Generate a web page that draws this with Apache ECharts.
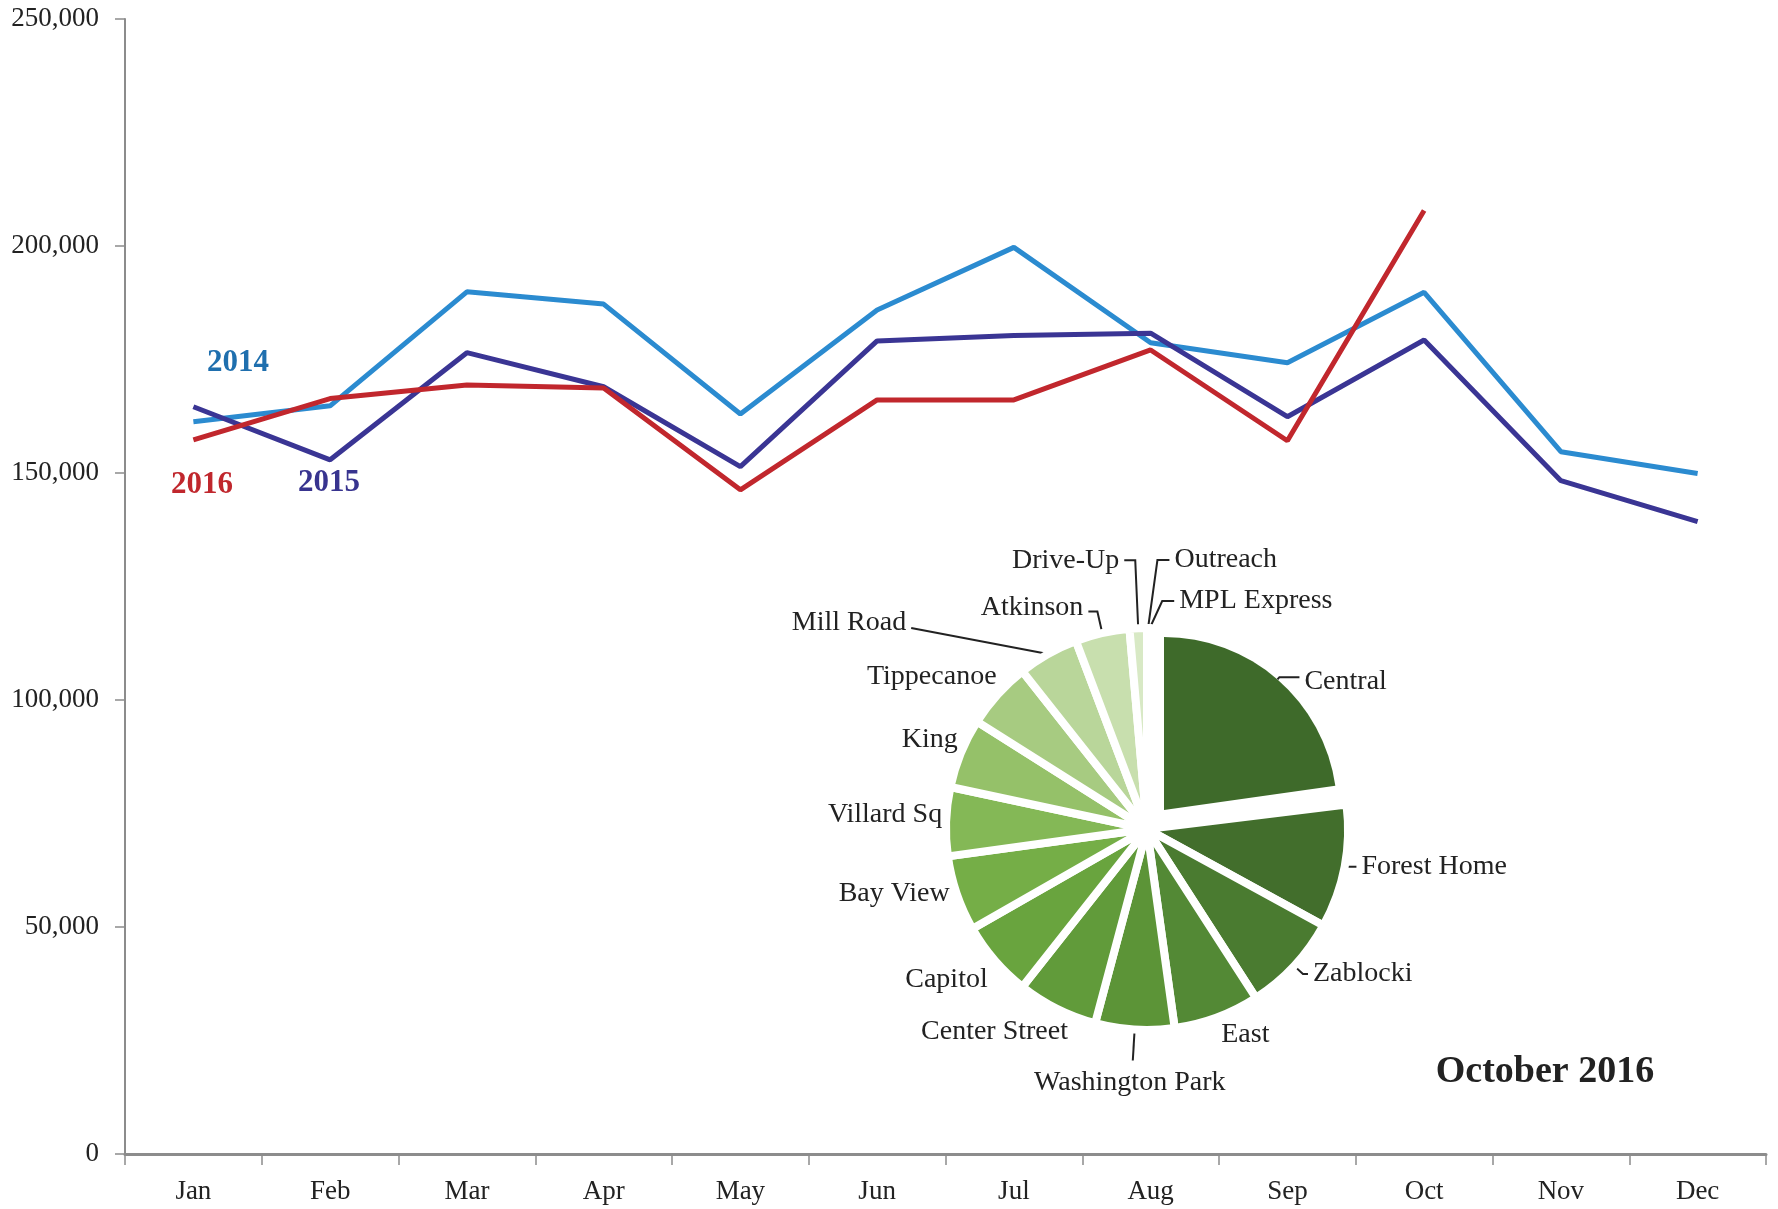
<!DOCTYPE html>
<html>
<head>
<meta charset="utf-8">
<script src="https://cdn.jsdelivr.net/npm/echarts@6/dist/echarts.min.js"></script>
<style>
html,body{margin:0;padding:0;background:#ffffff;}
#chart{width:1778px;height:1209px;}
</style>
</head>
<body>
<div id="chart"></div>
<script>
// ---------- data ----------
const months = ['Jan','Feb','Mar','Apr','May','Jun','Jul','Aug','Sep','Oct','Nov','Dec'];
const yearNames = ['2014','2015','2016'];
const values2014 = [161300,164800,189900,187200,163000,185900,199700,178700,174300,189800,154700,149900];
const values2015 = [164600,152900,176500,169000,151400,179100,180300,180800,162400,179300,148300,139300];
const values2016 = [157300,166400,169400,168700,146300,166100,166100,177100,157100,207800,null,null];
const pieTitle = 'October 2016';
const pieNames = ['Outreach','MPL Express','Central','Forest Home','Zablocki','East','Washington Park',
  'Center Street','Capitol','Bay View','Villard Sq','King','Tippecanoe','Mill Road','Atkinson','Drive-Up'];
const pieValues = [350,230,47300,20600,16450,14370,13200,13450,12700,12640,11480,11660,11200,10160,9060,2890];

// ---------- styles ----------
const FONT = '"Liberation Serif", "DejaVu Serif", serif';
const lineColors = ['#2b8bd0','#3a3594','#c1272d'];
const yearLabelColors = ['#1f6fae','#38348f','#c0272d'];
const pieColors = ['#e2eed3','#e2eed3','#3e6a2a','#426e2c','#4a7b30','#538935','#5c9437',
  '#619b3a','#69a43e','#75ae47','#84b856','#95c169','#a7cb81','#b9d69a','#c8dfae','#d8e9c5'];
// label line lengths / fine offsets of pie labels (per slice, same order as pieNames)
const pieLabelPlace = [
  {len:68, len2:21, line:true, bend:12},   // Outreach
  {len:27, len2:24, line:true, bend:12},   // MPL Express
  {len:3,  len2:20, line:true, dy:4},      // Central
  {len:0,  len2:12, line:true},            // Forest Home
  {len:12, len2:5,  line:true},            // Zablocki
  {len:18, len2:0,  line:false, dx:-7},    // East
  {len:31, len2:0,  line:true, dx:2, dy:22, align:'center'}, // Washington Park
  {len:0,  len2:0,  line:false, dx:16, dy:23},   // Center Street
  {len:0,  len2:0,  line:false, dx:-2, dy:19},   // Capitol
  {len:0,  len2:0,  line:false, dx:-2, dy:0},    // Bay View
  {len:0,  len2:0,  line:false, dx:1, dy:-7},    // Villard Sq
  {len:0,  len2:0,  line:false, dx:2, dy:-14},   // King
  {len:0,  len2:0,  line:false, dx:4, dy:-18},   // Tippecanoe
  {len:30, len2:122, line:true, dy:-5, bend:0},  // Mill Road
  {len:22, len2:9,  line:true, dy:-4},           // Atkinson
  {len:68, len2:11, line:true}                   // Drive-Up
];
const highlighted = 'Central';

function pieLabelLayout(p) {
  const c = pieLabelPlace[p.dataIndex] || {};
  const r = p.labelRect;
  const ax = p.align === 'right' ? r.x + r.width : (p.align === 'center' ? r.x + r.width / 2 : r.x);
  const ay = r.y + r.height / 2;
  const o = { x: ax + (c.dx || 0), y: ay + (c.dy || 0), verticalAlign: 'middle' };
  if (c.align) o.align = c.align;
  let pts = p.labelLinePoints;
  if (pts && pts.length) {
    if (c.bend != null) {
      const first = pts[0], last = pts[pts.length - 1];
      const dir = last[0] > first[0] ? -1 : 1;
      pts = c.bend === 0 ? [first, last] : [first, [last[0] + dir * c.bend, last[1]], last];
    }
    o.labelLinePoints = pts;
  }
  return o;
}

const labelText = { fontFamily: FONT, fontSize: 28, color: '#222' };
const lineStyleLabel = { lineStyle: { color: '#222', width: 2 } };

// other slices (with white gaps)
const pieDataOthers = pieNames.map((n, i) => {
  const p = pieLabelPlace[i];
  const isHi = n === highlighted;
  return {
    name: n, value: pieValues[i],
    itemStyle: isHi ? { color: 'rgba(0,0,0,0)', borderWidth: 0 } : { color: pieColors[i] },
    label: { show: !isHi },
    labelLine: { show: !isHi && p.line, length: p.len, length2: p.len2 }
  };
});
// highlighted slice (pulled out)
const pieDataHi = pieNames.map((n, i) => {
  const p = pieLabelPlace[i];
  const isHi = n === highlighted;
  return {
    name: n, value: pieValues[i],
    itemStyle: isHi ? { color: pieColors[i], borderWidth: 0 } : { color: 'rgba(0,0,0,0)', borderWidth: 0 },
    label: { show: isHi },
    labelLine: { show: isHi && p.line, length: p.len, length2: p.len2 }
  };
});

const chart = echarts.init(document.getElementById('chart'), null, { renderer: 'canvas' });
const yearSeries = [values2014, values2015, values2016];

const option = {
  animation: false,
  backgroundColor: '#ffffff',
  grid: { left: 125, right: 12, top: 19, bottom: 55, containLabel: false },
  xAxis: {
    type: 'category', data: months, boundaryGap: true,
    axisLine: { lineStyle: { color: '#8c8c8c', width: 3 } },
    axisTick: { show: true, length: 11, lineStyle: { color: '#8c8c8c', width: 1.5 } },
    axisLabel: { fontFamily: FONT, fontSize: 27, color: '#222', margin: 24 }
  },
  yAxis: {
    type: 'value', min: 0, max: 250000, interval: 50000,
    axisLine: { show: true, lineStyle: { color: '#8c8c8c', width: 2 } },
    axisTick: { show: true, length: 10, lineStyle: { color: '#8c8c8c', width: 1.5 } },
    splitLine: { show: false },
    axisLabel: { fontFamily: FONT, fontSize: 27, color: '#222', margin: 26,
      formatter: v => v.toLocaleString('en-US') }
  },
  series: [
    ...yearSeries.map((vals, i) => ({
      name: yearNames[i], type: 'line', data: vals, symbol: 'none', connectNulls: false,
      lineStyle: { color: lineColors[i], width: 5 }, itemStyle: { color: lineColors[i] },
      z: 3 + i
    })),
    {
      name: 'branches', type: 'pie', center: [1147, 829], radius: 201, startAngle: 90,
      clockwise: true, avoidLabelOverlap: false, silent: true, z: 5,
      itemStyle: { borderColor: '#ffffff', borderWidth: 8 },
      label: Object.assign({ position: 'outside', distanceToLabelLine: 5 }, labelText),
      labelLine: lineStyleLabel,
      labelLayout: pieLabelLayout,
      emphasis: { disabled: true },
      data: pieDataOthers
    },
    {
      name: 'branches-hi', type: 'pie', center: [1164, 810], radius: 173, startAngle: 91,
      clockwise: true, avoidLabelOverlap: false, silent: true, z: 6,
      label: Object.assign({ position: 'outside', distanceToLabelLine: 5 }, labelText),
      labelLine: lineStyleLabel,
      labelLayout: pieLabelLayout,
      emphasis: { disabled: true },
      data: pieDataHi
    }
  ],
  graphic: [
    { type: 'text', x: 238, y: 363, z: 10, style: { text: yearNames[0], fill: yearLabelColors[0],
      font: 'bold 31px ' + FONT, align: 'center', verticalAlign: 'middle' } },
    { type: 'text', x: 329, y: 483, z: 10, style: { text: yearNames[1], fill: yearLabelColors[1],
      font: 'bold 31px ' + FONT, align: 'center', verticalAlign: 'middle' } },
    { type: 'text', x: 202, y: 485, z: 10, style: { text: yearNames[2], fill: yearLabelColors[2],
      font: 'bold 31px ' + FONT, align: 'center', verticalAlign: 'middle' } },
    { type: 'text', x: 1545, y: 1072, z: 10, style: { text: pieTitle, fill: '#222',
      font: 'bold 38px ' + FONT, align: 'center', verticalAlign: 'middle' } }
  ]
};
chart.setOption(option);
</script>
</body>
</html>
